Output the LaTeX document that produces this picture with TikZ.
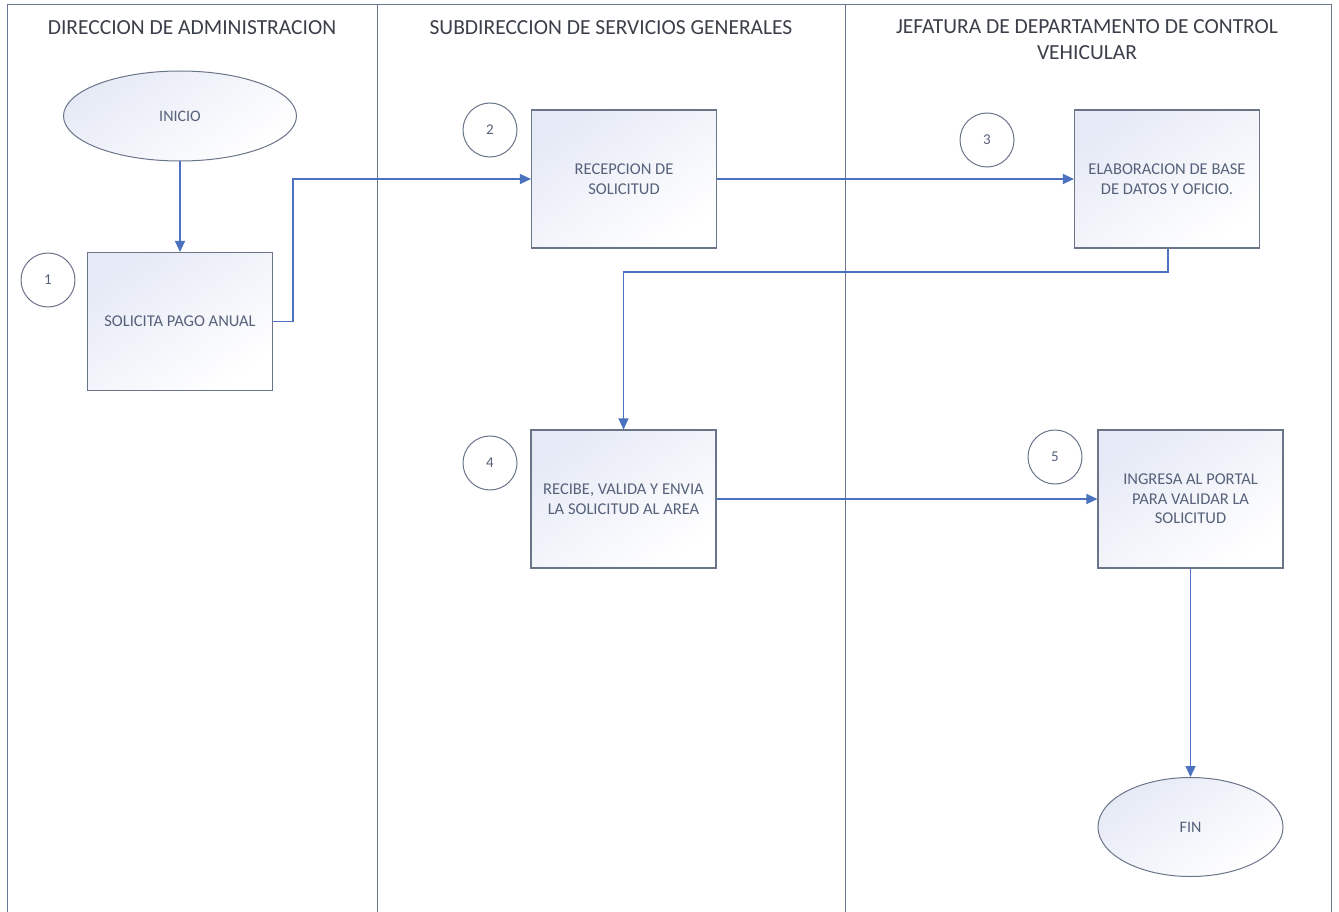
\documentclass[tikz,border=0pt]{standalone}
\usepackage{fontspec}
\setmainfont{Carlito}
\usetikzlibrary{arrows.meta,shapes.geometric}
\definecolor{lanec}{HTML}{6A7892}
\definecolor{boxc}{HTML}{6B758A}
\definecolor{flowc}{HTML}{4A72BE}
\definecolor{fillc}{HTML}{E6EAF6}
\definecolor{headc}{HTML}{3A3F4A}
\definecolor{txtc}{HTML}{56617A}
\tikzset{
  lane/.style={draw=lanec, line width=1pt},
  header/.style={text=headc, font=\fontsize{21.5}{26}\selectfont, align=center},
  stepbox/.style={draw=boxc, line width=1.1pt, rectangle, minimum width=185pt,
    minimum height=138pt, top color=fillc, bottom color=white, shading angle=35,
    text=txtc, font=\fontsize{16.5}{19.5}\selectfont, align=center, inner sep=0pt},
  terminal/.style={draw=boxc, line width=1pt, ellipse, inner sep=0pt,
    top color=fillc, bottom color=white, shading angle=35,
    text=txtc, font=\fontsize{16}{19}\selectfont},
  numc/.style={draw=boxc, line width=1pt, circle, minimum size=54pt, inner sep=0pt,
    text=txtc, font=\fontsize{15}{18}\selectfont},
  flow/.style={draw=flowc, line width=1.2pt, -{Triangle[length=11pt,width=10pt]}}
}
\begin{document}
\begin{tikzpicture}[x=1pt,y=-1pt]
  \useasboundingbox (0,0) rectangle (1339,912);
  \fill[white] (0,0) rectangle (1339,912);

  % swimlane frame and dividers
  \coordinate (fbl) at (7,912);
  \coordinate (ftl) at (7,5);
  \coordinate (ftr) at (1331,5);
  \coordinate (fbr) at (1331,912);
  \draw[lane] (fbl) -- (ftl) -- (ftr) -- (fbr);
  \coordinate (d1t) at (377,5);
  \coordinate (d1b) at (377,912);
  \coordinate (d2t) at (845,5);
  \coordinate (d2b) at (845,912);
  \draw[lane] (d1t) -- (d1b);
  \draw[lane] (d2t) -- (d2b);

  % lane headers
  \node[header] (h1) at (192,28) {DIRECCION DE ADMINISTRACION};
  \node[header] (h2) at (611,28) {SUBDIRECCION DE SERVICIOS GENERALES};
  \node[header] (h3) at (1087,40) {JEFATURA DE DEPARTAMENTO DE CONTROL\\VEHICULAR};

  % process shapes
  \node[terminal, minimum width=233pt, minimum height=90pt] (inicio) at (180,116) {INICIO};
  \node[stepbox] (s1) at (180,321.5) {SOLICITA PAGO ANUAL};
  \node[stepbox] (s2) at (624,179) {RECEPCION DE\\SOLICITUD};
  \node[stepbox] (s3) at (1167,179) {ELABORACION DE BASE\\DE DATOS Y OFICIO.};
  \node[stepbox] (s4) at (623.5,499) {RECIBE, VALIDA Y ENVIA\\LA SOLICITUD AL AREA};
  \node[stepbox] (s5) at (1190.5,499) {INGRESA AL PORTAL\\PARA VALIDAR LA\\SOLICITUD};
  \node[terminal, minimum width=185pt, minimum height=99pt] (fin) at (1190.5,827) {FIN};

  % step numbers
  \node[numc] (n1) at (48,280) {1};
  \node[numc] (n2) at (490,130) {2};
  \node[numc] (n3) at (987,140) {3};
  \node[numc] (n4) at (490,463) {4};
  \node[numc] (n5) at (1055,457) {5};

  % connectors
  \draw[flow] (inicio.south) -- (s1.north);
  \draw[flow] (s1.east) -- ++(20,0) |- (s2.west);
  \draw[flow] (s2.east) -- (s3.west);
  \coordinate (turn) at (1168,272);
  \draw[flow] (s3.south -| turn) -- (turn) -| (s4.north);
  \draw[flow] (s4.east) -- (s5.west);
  \draw[flow] (s5.south) -- (fin.north);
\end{tikzpicture}
\end{document}
